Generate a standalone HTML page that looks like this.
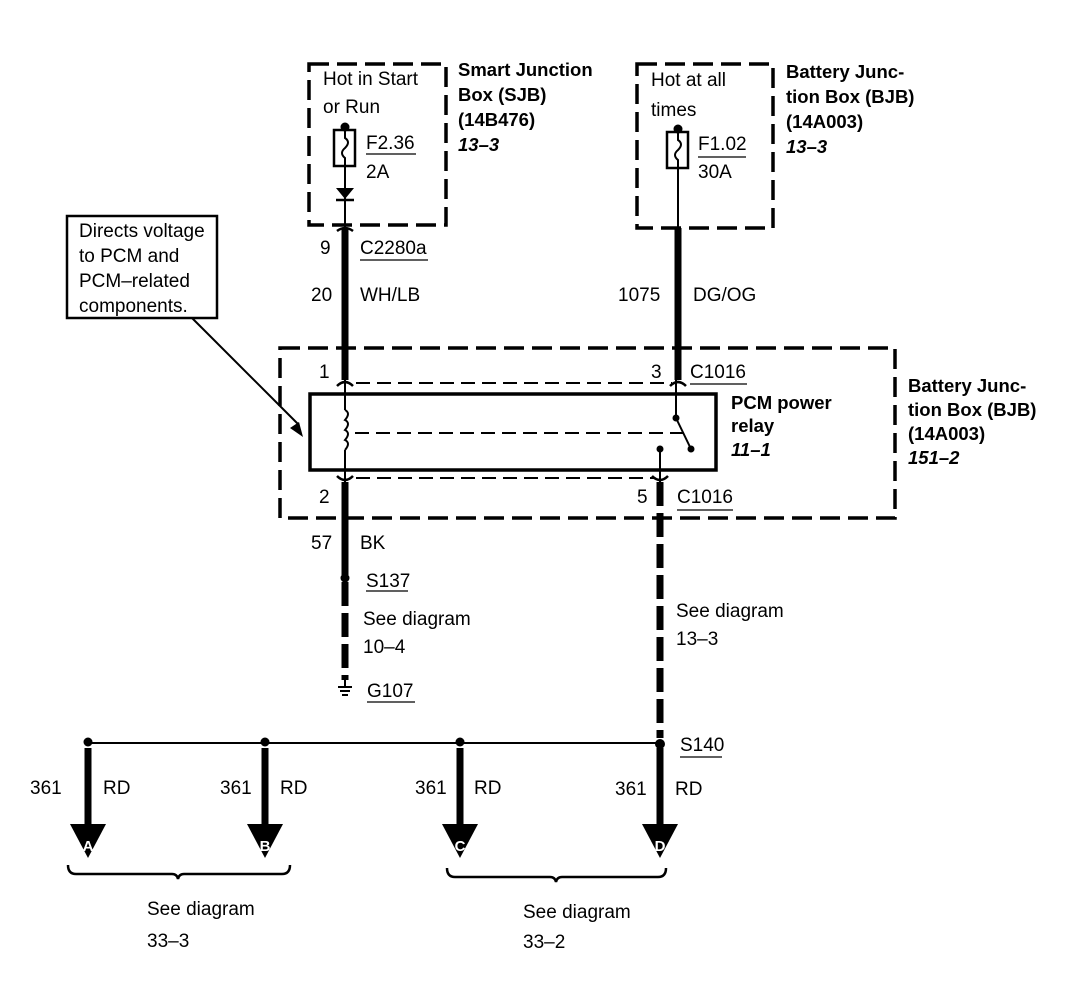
<!DOCTYPE html>
<html><head><meta charset="utf-8"><style>
html,body{margin:0;padding:0;background:#fff;}
svg{display:block;}
text{font-family:"Liberation Sans",Arial,sans-serif;font-size:19px;fill:#000;}
.b{font-weight:bold;font-size:18.5px;}
.bi{font-weight:bold;font-style:italic;font-size:18.5px;}
</style></head><body>
<svg width="1088" height="992" viewBox="0 0 1088 992" xmlns="http://www.w3.org/2000/svg">
<g fill="none" stroke="#000">
<rect x="309" y="64" width="137" height="161" stroke-width="3.5" stroke-dasharray="20,8"/>
<rect x="637" y="64" width="136" height="164" stroke-width="3.5" stroke-dasharray="20,8"/>
<rect x="280" y="348" width="615" height="170" stroke-width="3.5" stroke-dasharray="20,8"/>
<rect x="334" y="130" width="21" height="36" stroke-width="2.5"/>
<rect x="667" y="132" width="21" height="36" stroke-width="2.5"/>
<path d="M345 130 v8 q6 4 0 10 q-6 5 0 10 v8" stroke-width="2"/>
<path d="M678 132 v8 q6 4 0 10 q-6 5 0 10 v8" stroke-width="2"/>
<line x1="345" y1="126" x2="345" y2="130" stroke-width="2"/>
<line x1="345" y1="166" x2="345" y2="228" stroke-width="2"/>
<line x1="678" y1="128" x2="678" y2="132" stroke-width="2"/>
<line x1="678" y1="168" x2="678" y2="228" stroke-width="2"/>
<line x1="336" y1="200" x2="354" y2="200" stroke-width="2.5"/>
<line x1="345" y1="228" x2="345" y2="380" stroke-width="7"/>
<line x1="678" y1="228" x2="678" y2="380" stroke-width="7"/>
<line x1="345" y1="482" x2="345" y2="575" stroke-width="7"/>
<line x1="345" y1="582" x2="345" y2="680" stroke-width="7" stroke-dasharray="24,7"/>
<line x1="660" y1="482" x2="660" y2="738" stroke-width="7" stroke-dasharray="24,7"/>
<path d="M337 231 q8 -6 16 0" stroke-width="2.5"/>
<path d="M337 386 q8 -8 16 0" stroke-width="2.5"/>
<path d="M670 386 q8 -8 16 0" stroke-width="2.5"/>
<path d="M337 476 q8 8 16 0" stroke-width="2.5"/>
<path d="M652 476 q8 8 16 0" stroke-width="2.5"/>
<rect x="310" y="394" width="406" height="76" stroke-width="3.5"/>
<line x1="345" y1="380" x2="345" y2="410" stroke-width="2"/>
<path d="M345 410 q6 3 0 10 q6 3 0 10 q6 3 0 10 q6 3 0 10" stroke-width="2"/>
<line x1="345" y1="450" x2="345" y2="482" stroke-width="2"/>
<line x1="356" y1="383" x2="672" y2="383" stroke-width="2" stroke-dasharray="14,7"/>
<line x1="356" y1="478" x2="654" y2="478" stroke-width="2" stroke-dasharray="14,7"/>
<line x1="355" y1="433" x2="686" y2="433" stroke-width="2" stroke-dasharray="14,7"/>
<line x1="676" y1="380" x2="676" y2="418" stroke-width="2"/>
<line x1="676" y1="418" x2="691" y2="449" stroke-width="2"/>
<line x1="660" y1="449" x2="660" y2="482" stroke-width="2"/>
<line x1="345" y1="680" x2="345" y2="686" stroke-width="2"/>
<line x1="338" y1="687" x2="352" y2="687" stroke-width="2"/>
<line x1="340" y1="691" x2="350" y2="691" stroke-width="2"/>
<line x1="342" y1="695" x2="348" y2="695" stroke-width="2"/>
<line x1="88" y1="743" x2="660" y2="743" stroke-width="2"/>
<line x1="88" y1="748" x2="88" y2="826" stroke-width="7"/>
<line x1="265" y1="748" x2="265" y2="826" stroke-width="7"/>
<line x1="460" y1="748" x2="460" y2="826" stroke-width="7"/>
<line x1="660" y1="748" x2="660" y2="826" stroke-width="7"/>
<path d="M68 865 q0 9 8 9 h96 q5 0 6 5 q1 -5 6 -5 h98 q8 0 8 -9" stroke-width="2.5"/>
<path d="M447 868 q0 9 8 9 h95 q5 0 6 5 q1 -5 6 -5 h96 q8 0 8 -9" stroke-width="2.5"/>
<rect x="67" y="216" width="150" height="102" stroke-width="2.5"/>
<line x1="192" y1="318" x2="298" y2="424" stroke-width="2"/>
<g stroke-width="1.3">
<line x1="366" y1="154" x2="416" y2="154"/>
<line x1="698" y1="157" x2="746" y2="157"/>
<line x1="360" y1="260" x2="428" y2="260"/>
<line x1="690" y1="384" x2="747" y2="384"/>
<line x1="677" y1="510" x2="733" y2="510"/>
<line x1="366" y1="591" x2="408" y2="591"/>
<line x1="367" y1="702" x2="415" y2="702"/>
<line x1="680" y1="757" x2="722" y2="757"/>
</g>
</g>
<g fill="#000">
<circle cx="345" cy="127" r="4.5"/>
<circle cx="678" cy="129" r="4.5"/>
<polygon points="336,188 354,188 345,199"/>
<circle cx="676" cy="418" r="3.5"/>
<circle cx="691" cy="449" r="3.5"/>
<circle cx="660" cy="449" r="3.5"/>
<circle cx="345" cy="578" r="4.5"/>
<circle cx="88" cy="742" r="4.5"/>
<circle cx="265" cy="742" r="4.5"/>
<circle cx="460" cy="742" r="4.5"/>
<circle cx="660" cy="744" r="5"/>
<polygon points="290,428 303,437 299,422"/>
<polygon points="70,824 106,824 88,858"/>
<polygon points="247,824 283,824 265,858"/>
<polygon points="442,824 478,824 460,858"/>
<polygon points="642,824 678,824 660,858"/>
</g>
<g>
<text x="88" y="851" text-anchor="middle" class="b" style="fill:#fff;font-size:15px">A</text>
<text x="265" y="851" text-anchor="middle" class="b" style="fill:#fff;font-size:15px">B</text>
<text x="460" y="851" text-anchor="middle" class="b" style="fill:#fff;font-size:15px">C</text>
<text x="660" y="851" text-anchor="middle" class="b" style="fill:#fff;font-size:15px">D</text>

<text x="323" y="85">Hot in Start</text>
<text x="323" y="113">or Run</text>
<text x="366" y="149">F2.36</text>
<text x="366" y="178">2A</text>
<text x="651" y="86">Hot at all</text>
<text x="651" y="116">times</text>
<text x="698" y="150">F1.02</text>
<text x="698" y="178">30A</text>

<text x="458" y="76" class="b">Smart Junction</text>
<text x="458" y="101" class="b">Box (SJB)</text>
<text x="458" y="126" class="b">(14B476)</text>
<text x="458" y="151" class="bi">13–3</text>
<text x="786" y="78" class="b">Battery Junc-</text>
<text x="786" y="103" class="b">tion Box (BJB)</text>
<text x="786" y="128" class="b">(14A003)</text>
<text x="786" y="153" class="bi">13–3</text>

<text x="320" y="254">9</text>
<text x="360" y="254">C2280a</text>
<text x="311" y="301">20</text>
<text x="360" y="301">WH/LB</text>
<text x="618" y="301">1075</text>
<text x="693" y="301">DG/OG</text>

<text x="79" y="237">Directs voltage</text>
<text x="79" y="262">to PCM and</text>
<text x="79" y="287">PCM–related</text>
<text x="79" y="312">components.</text>

<text x="319" y="378">1</text>
<text x="651" y="378">3</text>
<text x="690" y="378">C1016</text>
<text x="319" y="503">2</text>
<text x="637" y="503">5</text>
<text x="677" y="503">C1016</text>
<text x="731" y="409" class="b">PCM power</text>
<text x="731" y="432" class="b">relay</text>
<text x="731" y="456" class="bi">11–1</text>
<text x="908" y="392" class="b">Battery Junc-</text>
<text x="908" y="416" class="b">tion Box (BJB)</text>
<text x="908" y="440" class="b">(14A003)</text>
<text x="908" y="464" class="bi">151–2</text>

<text x="311" y="549">57</text>
<text x="360" y="549">BK</text>
<text x="366" y="587">S137</text>
<text x="363" y="625">See diagram</text>
<text x="363" y="653">10–4</text>
<text x="367" y="697">G107</text>
<text x="676" y="617">See diagram</text>
<text x="676" y="645">13–3</text>
<text x="680" y="751">S140</text>

<text x="30" y="794">361</text>
<text x="103" y="794">RD</text>
<text x="220" y="794">361</text>
<text x="280" y="794">RD</text>
<text x="415" y="794">361</text>
<text x="474" y="794">RD</text>
<text x="615" y="795">361</text>
<text x="675" y="795">RD</text>

<text x="147" y="915">See diagram</text>
<text x="147" y="947">33–3</text>
<text x="523" y="918">See diagram</text>
<text x="523" y="948">33–2</text>
</g>
</svg>
</body></html>
